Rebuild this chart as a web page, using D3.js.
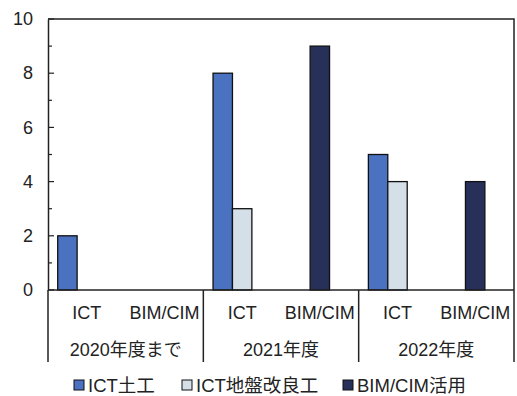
<!DOCTYPE html>
<html><head><meta charset="UTF-8">
<style>
body { margin: 0; background: #fff; }
text { font-family: "Liberation Sans", Arial, "Noto Sans CJK JP", sans-serif; fill: #222; }
</style>
</head><body><svg width="517" height="396"></svg>
<script src="https://cdn.jsdelivr.net/npm/d3@7/dist/d3.min.js"></script>
<script>

var years = ["2020年度まで", "2021年度", "2022年度"];
var kinds = ["ICT", "BIM/CIM"];
var series = ["ICT土工", "ICT地盤改良工", "BIM/CIM活用"];
var colors = ["#4a72c0", "#d5dfe8", "#263059"];
// slot of each series inside its category (BIM/CIM sits in the middle slot)
var slots = [0, 1, 1];

// one value per year ; ICT series under "ICT", BIM/CIM series under "BIM/CIM"
var ictDoboku = [2, 8, 5];
var ictJiban = [0, 3, 4];
var bimCim = [0, 9, 4];

var yTicks = [0, 2, 4, 6, 8, 10];

var svg = d3.select("svg"),
    mLeft = 48, mRight = 514, mTop = 19, mBottom = 290;

var x0 = d3.scaleBand().domain(years).range([mLeft, mRight]);
var x1 = d3.scaleBand().domain(kinds).range([0, x0.bandwidth()]);
var x2 = d3.scaleBand().domain([0, 1, 2]).range([0, x1.bandwidth()]).paddingOuter(0.5);
var y = d3.scaleLinear().domain([0, 10]).range([mBottom, mTop]);

var bars = [];
years.forEach(function(yr, i) {
  bars.push({year: yr, kind: "ICT", s: 0, v: ictDoboku[i]});
  bars.push({year: yr, kind: "ICT", s: 1, v: ictJiban[i]});
  bars.push({year: yr, kind: "BIM/CIM", s: 2, v: bimCim[i]});
});

svg.selectAll("rect.bar")
    .data(bars.filter(function(d) { return d.v > 0; }))
  .enter().append("rect")
    .attr("class", "bar")
    .attr("x", function(d) { return x0(d.year) + x1(d.kind) + x2(slots[d.s]); })
    .attr("y", function(d) { return y(d.v); })
    .attr("width", x2.bandwidth())
    .attr("height", function(d) { return y(0) - y(d.v); })
    .attr("fill", function(d) { return colors[d.s]; })
    .attr("stroke", "#111")
    .attr("stroke-width", 1.3);

// frame
svg.append("path")
    .attr("d", "M" + mLeft + "," + mTop + "H" + mRight + "V" + mBottom)
    .attr("fill", "none").attr("stroke", "#222").attr("stroke-width", 1.5);

// y axis
var yAxis = d3.axisLeft(y).tickValues(yTicks).tickSize(0).tickPadding(15);
var ga = svg.append("g").attr("transform", "translate(" + mLeft + ",0)").call(yAxis);
ga.select(".domain").attr("stroke", "#222").attr("stroke-width", 1.5);
ga.selectAll("text").style("font-size", "18px").attr("fill", "#222");
d3.range(0, 11).forEach(function(v) {
  svg.append("line")
      .attr("x1", mLeft).attr("x2", mLeft + (v % 2 ? 4 : 6))
      .attr("y1", y(v)).attr("y2", y(v))
      .attr("stroke", "#222").attr("stroke-width", 1.2);
});

// category axis
svg.append("line").attr("x1", mLeft).attr("x2", mRight).attr("y1", mBottom).attr("y2", mBottom)
    .attr("stroke", "#222").attr("stroke-width", 1.5);
var seps = years.map(function(d) { return x0(d); }).concat([mRight]);
svg.selectAll("line.sep").data(seps).enter().append("line")
    .attr("x1", function(d) { return d; }).attr("x2", function(d) { return d; })
    .attr("y1", mBottom).attr("y2", 362)
    .attr("stroke", "#222").attr("stroke-width", 1.5);

years.forEach(function(yr) {
  kinds.forEach(function(k) {
    svg.append("text")
        .attr("x", x0(yr) + x1(k) + x1.bandwidth() / 2)
        .attr("y", 319)
        .attr("text-anchor", "middle")
        .style("font-size", "18px")
        .text(k);
  });
  svg.append("text")
      .attr("x", x0(yr) + x0.bandwidth() / 2)
      .attr("y", 356)
      .attr("text-anchor", "middle")
      .style("font-size", "18px")
      .text(yr);
});

// legend
var legX = [74, 182, 343];
var leg = svg.selectAll("g.leg").data(series).enter().append("g")
    .attr("transform", function(d, i) { return "translate(" + legX[i] + ",385)"; });
leg.append("rect")
    .attr("x", 0).attr("y", -5).attr("width", 10).attr("height", 10)
    .attr("fill", function(d, i) { return colors[i]; })
    .attr("stroke", "#111").attr("stroke-width", 1);
leg.append("text")
    .attr("x", 14).attr("y", 6.5)
    .style("font-size", "18.5px")
    .text(function(d) { return d; });

</script>
</body></html>
